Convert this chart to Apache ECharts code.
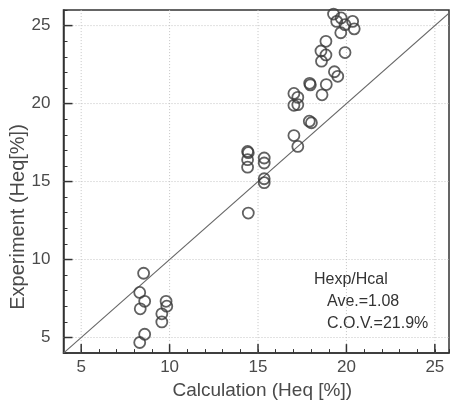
<!DOCTYPE html>
<html>
<head>
<meta charset="utf-8">
<script src="https://cdn.jsdelivr.net/npm/echarts@6/dist/echarts.min.js"></script>
<style>html,body{margin:0;padding:0;background:#fff}#c{width:452px;height:405px}</style>
</head>
<body>
<div id="c"></div>
<script>
// Axis ranges and tick labels
const xMin = 4, xMax = 25.8, yMin = 4, yMax = 26;
const majorTicks = [5, 10, 15, 20, 25];

// Calculation (Heq [%]) values
const calcValues = [
  19.27, 19.70, 19.45, 19.92, 20.35, 20.44, 19.68, 18.84, 18.56, 18.84, 18.59, 19.92, 19.32, 19.51,
  17.92, 17.96, 18.86, 18.62, 17.03, 17.25, 17.03, 17.25, 17.90, 18.02, 17.03, 17.25,
  14.41, 14.45, 14.41, 14.41, 15.35, 15.35, 15.35, 15.35, 14.45,
  8.53, 8.31, 8.59, 8.34, 8.59, 8.31, 9.80, 9.84, 9.56, 9.56
];
// Experiment (Heq[%]) values
const exptValues = [
  25.74, 25.49, 25.27, 25.06, 25.27, 24.79, 24.54, 23.99, 23.37, 23.12, 22.72, 23.27, 22.04, 21.75,
  21.30, 21.20, 21.22, 20.56, 20.65, 20.40, 19.89, 19.93, 18.87, 18.77, 17.95, 17.25,
  16.93, 16.85, 16.40, 15.92, 16.51, 16.19, 15.18, 14.93, 12.98,
  9.12, 7.89, 7.32, 6.84, 5.21, 4.68, 7.32, 7.01, 6.52, 6.00
];
const diagonal = [[4, 4], [26, 26]];
const noteLines = ['Hexp/Hcal', 'Ave.=1.08', 'C.O.V.=21.9%'];

const FONT = 'Liberation Sans, Arial, Helvetica, sans-serif';
const chart = echarts.init(document.getElementById('c'), null, {renderer: 'canvas'});

function axisCommon() {
  return {
    type: 'value',
    interval: 1,
    axisLine: {show: true, lineStyle: {color: '#333', width: 1.5}},
    axisTick: {show: true, inside: true, length: 4, lineStyle: {color: '#333', width: 1}},
    splitLine: {show: false},
    minorSplitLine: {show: false},
    axisLabel: {
      color: '#4a4a4a', fontSize: 17, fontFamily: FONT,
      formatter: v => (majorTicks.indexOf(v) >= 0 ? String(v) : '')
    }
  };
}

const xAxis = Object.assign(axisCommon(), {
  min: xMin, max: xMax,
  name: 'Calculation (Heq [%])',
  nameLocation: 'middle', nameGap: 26,
  nameTextStyle: {color: '#4a4a4a', fontSize: 19, fontFamily: FONT, padding: [0, 0, 0, 12]}
});
xAxis.axisLabel.margin = 6;
const yAxis = Object.assign(axisCommon(), {min: yMin, max: yMax});
yAxis.axisLabel.margin = 13;

const option = {
  animation: false,
  backgroundColor: '#fff',
  grid: {left: 63.5, right: 1, top: 10, bottom: 48, show: true, borderColor: '#333', borderWidth: 1.5},
  xAxis: xAxis,
  yAxis: yAxis,
  graphic: [
    {type: 'text', x: 18, y: 217, rotation: Math.PI / 2,
     style: {text: 'Experiment (Heq[%])', fill: '#4a4a4a', fontSize: 20, fontFamily: FONT, align: 'center', verticalAlign: 'middle'}},
    {type: 'text', x: 314, y: 280, style: {text: noteLines[0], fill: '#333', fontSize: 16, fontFamily: FONT, verticalAlign: 'middle'}},
    {type: 'text', x: 327, y: 302, style: {text: noteLines[1], fill: '#333', fontSize: 16, fontFamily: FONT, verticalAlign: 'middle'}},
    {type: 'text', x: 327, y: 324, style: {text: noteLines[2], fill: '#333', fontSize: 16, fontFamily: FONT, verticalAlign: 'middle'}}
  ],
  series: [
    { // vertical gridlines + major x ticks
      type: 'custom', silent: true, z: 1, clip: false,
      data: majorTicks.map(v => [v, yMin]),
      encode: {x: 0, y: 1},
      renderItem: function (params, api) {
        const v = api.value(0);
        const a = api.coord([v, yMin]);
        const b = api.coord([v, yMax]);
        return {type: 'group', children: [
          {type: 'line', shape: {x1: a[0], y1: a[1], x2: b[0], y2: b[1]}, style: {stroke: '#c4c4c4', lineWidth: 1, lineDash: [1, 2]}},
          {type: 'line', shape: {x1: a[0], y1: a[1], x2: a[0], y2: a[1] - 9}, style: {stroke: '#333', lineWidth: 1.5}}
        ]};
      }
    },
    { // horizontal gridlines + major y ticks
      type: 'custom', silent: true, z: 1, clip: false,
      data: majorTicks.map(v => [xMin, v]),
      encode: {x: 0, y: 1},
      renderItem: function (params, api) {
        const v = api.value(1);
        const a = api.coord([xMin, v]);
        const b = api.coord([xMax, v]);
        return {type: 'group', children: [
          {type: 'line', shape: {x1: a[0], y1: a[1], x2: b[0], y2: b[1]}, style: {stroke: '#c4c4c4', lineWidth: 1, lineDash: [1, 2]}},
          {type: 'line', shape: {x1: a[0], y1: a[1], x2: a[0] + 9, y2: a[1]}, style: {stroke: '#333', lineWidth: 1.5}}
        ]};
      }
    },
    {
      type: 'line', data: diagonal, symbol: 'none', clip: true, z: 2,
      lineStyle: {color: '#666', width: 1.1}
    },
    {
      type: 'scatter', z: 3,
      data: calcValues.map((x, i) => [x, exptValues[i]]),
      symbol: 'circle', symbolSize: 11,
      itemStyle: {color: 'rgba(255,255,255,0)', borderColor: '#3a3a3a', borderWidth: 1.8}
    }
  ]
};
chart.setOption(option);
</script>
</body>
</html>
